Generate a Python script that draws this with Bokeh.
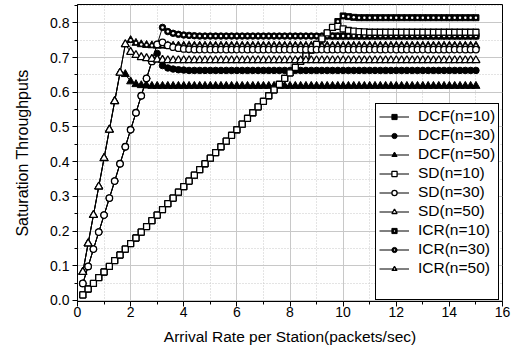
from bokeh.plotting import figure
from bokeh.models import Range1d, SingleIntervalTicker, Legend, LegendItem, PrintfTickFormatter
from bokeh.embed import file_html
from bokeh.resources import INLINE

x_rate = [0.2, 0.4, 0.6, 0.8, 1.0, 1.2, 1.4, 1.6, 1.8, 2.0,
          2.2, 2.4, 2.6, 2.8, 3.0, 3.2, 3.4, 3.6, 3.8, 4.0,
          4.2, 4.4, 4.6, 4.8, 5.0, 5.2, 5.4, 5.6, 5.8, 6.0,
          6.2, 6.4, 6.6, 6.8, 7.0, 7.2, 7.4, 7.6, 7.8, 8.0,
          8.2, 8.4, 8.6, 8.8, 9.0, 9.2, 9.4, 9.6, 9.8, 10.0,
          10.2, 10.4, 10.6, 10.8, 11.0, 11.2, 11.4, 11.6, 11.8, 12.0,
          12.2, 12.4, 12.6, 12.8, 13.0, 13.2, 13.4, 13.6, 13.8, 14.0,
          14.2, 14.4, 14.6, 14.8, 15.0]

dcf_n10 = [0.016, 0.033, 0.049, 0.066, 0.082, 0.098, 0.115, 0.131, 0.148, 0.164,
           0.180, 0.197, 0.213, 0.230, 0.246, 0.262, 0.279, 0.295, 0.312, 0.328,
           0.344, 0.361, 0.377, 0.394, 0.410, 0.426, 0.443, 0.459, 0.476, 0.492,
           0.508, 0.525, 0.541, 0.558, 0.574, 0.590, 0.607, 0.623, 0.640, 0.656,
           0.672, 0.689, 0.705, 0.722, 0.738, 0.754, 0.763, 0.762, 0.762, 0.762,
           0.762, 0.762, 0.762, 0.762, 0.762, 0.762, 0.762, 0.762, 0.762, 0.762,
           0.762, 0.762, 0.762, 0.762, 0.762, 0.762, 0.762, 0.762, 0.762, 0.762,
           0.762, 0.762, 0.762, 0.762, 0.762]
dcf_n30 = [0.049, 0.098, 0.148, 0.197, 0.246, 0.295, 0.344, 0.394, 0.443, 0.492,
           0.541, 0.590, 0.640, 0.689, 0.712, 0.677, 0.670, 0.667, 0.665, 0.664,
           0.663, 0.663, 0.663, 0.663, 0.663, 0.663, 0.663, 0.663, 0.663, 0.663,
           0.663, 0.663, 0.663, 0.663, 0.663, 0.663, 0.663, 0.663, 0.663, 0.663,
           0.663, 0.663, 0.663, 0.663, 0.663, 0.663, 0.663, 0.663, 0.663, 0.663,
           0.663, 0.663, 0.663, 0.663, 0.663, 0.663, 0.663, 0.663, 0.663, 0.663,
           0.663, 0.663, 0.663, 0.663, 0.663, 0.663, 0.663, 0.663, 0.663, 0.663,
           0.663, 0.663, 0.663, 0.663, 0.663]
dcf_n50 = [0.082, 0.164, 0.246, 0.328, 0.410, 0.492, 0.574, 0.656, 0.652, 0.631,
           0.623, 0.620, 0.619, 0.618, 0.618, 0.618, 0.618, 0.618, 0.618, 0.618,
           0.618, 0.618, 0.618, 0.618, 0.618, 0.618, 0.618, 0.618, 0.618, 0.618,
           0.618, 0.618, 0.618, 0.618, 0.618, 0.618, 0.618, 0.618, 0.618, 0.618,
           0.618, 0.618, 0.618, 0.618, 0.618, 0.618, 0.618, 0.618, 0.618, 0.618,
           0.618, 0.618, 0.618, 0.618, 0.618, 0.618, 0.618, 0.618, 0.618, 0.618,
           0.618, 0.618, 0.618, 0.618, 0.618, 0.618, 0.618, 0.618, 0.618, 0.618,
           0.618, 0.618, 0.618, 0.618, 0.618]
sd_n10 = [0.016, 0.033, 0.049, 0.066, 0.082, 0.098, 0.115, 0.131, 0.148, 0.164,
          0.180, 0.197, 0.213, 0.230, 0.246, 0.262, 0.279, 0.295, 0.312, 0.328,
          0.344, 0.361, 0.377, 0.394, 0.410, 0.426, 0.443, 0.459, 0.476, 0.492,
          0.508, 0.525, 0.541, 0.558, 0.574, 0.590, 0.607, 0.623, 0.640, 0.656,
          0.672, 0.689, 0.705, 0.722, 0.738, 0.754, 0.771, 0.787, 0.790, 0.783,
          0.778, 0.776, 0.775, 0.774, 0.773, 0.773, 0.773, 0.773, 0.773, 0.773,
          0.773, 0.773, 0.773, 0.773, 0.773, 0.773, 0.773, 0.773, 0.773, 0.773,
          0.773, 0.773, 0.773, 0.773, 0.773]
sd_n30 = [0.049, 0.098, 0.148, 0.197, 0.246, 0.295, 0.344, 0.394, 0.443, 0.492,
          0.541, 0.590, 0.640, 0.689, 0.738, 0.744, 0.735, 0.730, 0.727, 0.725,
          0.724, 0.723, 0.723, 0.723, 0.723, 0.723, 0.723, 0.723, 0.723, 0.723,
          0.723, 0.723, 0.723, 0.723, 0.723, 0.723, 0.723, 0.723, 0.723, 0.723,
          0.723, 0.723, 0.723, 0.723, 0.723, 0.723, 0.723, 0.723, 0.723, 0.723,
          0.723, 0.723, 0.723, 0.723, 0.723, 0.723, 0.723, 0.723, 0.723, 0.723,
          0.723, 0.723, 0.723, 0.723, 0.723, 0.723, 0.723, 0.723, 0.723, 0.723,
          0.723, 0.723, 0.723, 0.723, 0.723]
sd_n50 = [0.082, 0.164, 0.246, 0.328, 0.410, 0.492, 0.574, 0.656, 0.738, 0.716,
          0.707, 0.701, 0.698, 0.696, 0.694, 0.693, 0.692, 0.692, 0.692, 0.692,
          0.692, 0.692, 0.692, 0.692, 0.692, 0.692, 0.692, 0.692, 0.692, 0.692,
          0.692, 0.692, 0.692, 0.692, 0.692, 0.692, 0.692, 0.692, 0.692, 0.692,
          0.692, 0.692, 0.692, 0.692, 0.692, 0.692, 0.692, 0.692, 0.692, 0.692,
          0.692, 0.692, 0.692, 0.692, 0.692, 0.692, 0.692, 0.692, 0.692, 0.692,
          0.692, 0.692, 0.692, 0.692, 0.692, 0.692, 0.692, 0.692, 0.692, 0.692,
          0.692, 0.692, 0.692, 0.692, 0.692]
icr_n10 = [0.016, 0.033, 0.049, 0.066, 0.082, 0.098, 0.115, 0.131, 0.148, 0.164,
           0.180, 0.197, 0.213, 0.230, 0.246, 0.262, 0.279, 0.295, 0.312, 0.328,
           0.344, 0.361, 0.377, 0.394, 0.410, 0.426, 0.443, 0.459, 0.476, 0.492,
           0.508, 0.525, 0.541, 0.558, 0.574, 0.590, 0.607, 0.623, 0.640, 0.656,
           0.672, 0.689, 0.705, 0.722, 0.738, 0.754, 0.771, 0.787, 0.804, 0.820,
           0.818, 0.816, 0.815, 0.815, 0.815, 0.815, 0.815, 0.815, 0.815, 0.815,
           0.815, 0.815, 0.815, 0.815, 0.815, 0.815, 0.815, 0.815, 0.815, 0.815,
           0.815, 0.815, 0.815, 0.815, 0.815]
icr_n30 = [0.049, 0.098, 0.148, 0.197, 0.246, 0.295, 0.344, 0.394, 0.443, 0.492,
           0.541, 0.590, 0.640, 0.689, 0.738, 0.787, 0.775, 0.770, 0.767, 0.765,
           0.764, 0.763, 0.762, 0.762, 0.762, 0.762, 0.762, 0.762, 0.762, 0.762,
           0.762, 0.762, 0.762, 0.762, 0.762, 0.762, 0.762, 0.762, 0.762, 0.762,
           0.762, 0.762, 0.762, 0.762, 0.762, 0.762, 0.762, 0.762, 0.762, 0.762,
           0.762, 0.762, 0.762, 0.762, 0.762, 0.762, 0.762, 0.762, 0.762, 0.762,
           0.762, 0.762, 0.762, 0.762, 0.762, 0.762, 0.762, 0.762, 0.762, 0.762,
           0.762, 0.762, 0.762, 0.762, 0.762]
icr_n50 = [0.082, 0.164, 0.246, 0.328, 0.410, 0.492, 0.574, 0.656, 0.738, 0.750,
           0.742, 0.738, 0.736, 0.735, 0.734, 0.734, 0.734, 0.734, 0.734, 0.734,
           0.734, 0.734, 0.734, 0.734, 0.734, 0.734, 0.734, 0.734, 0.734, 0.734,
           0.734, 0.734, 0.734, 0.734, 0.734, 0.734, 0.734, 0.734, 0.734, 0.734,
           0.734, 0.734, 0.734, 0.734, 0.734, 0.734, 0.734, 0.734, 0.734, 0.734,
           0.734, 0.734, 0.734, 0.734, 0.734, 0.734, 0.734, 0.734, 0.734, 0.734,
           0.734, 0.734, 0.734, 0.734, 0.734, 0.734, 0.734, 0.734, 0.734, 0.734,
           0.734, 0.734, 0.734, 0.734, 0.734]

series_labels = ["DCF(n=10)", "DCF(n=30)", "DCF(n=50)",
                 "SD(n=10)", "SD(n=30)", "SD(n=50)",
                 "ICR(n=10)", "ICR(n=30)", "ICR(n=50)"]
series_values = [dcf_n10, dcf_n30, dcf_n50, sd_n10, sd_n30, sd_n50, icr_n10, icr_n30, icr_n50]

x_title = "Arrival Rate per Station(packets/sec)"
y_title = "Saturation Throughputs"

FONT = "Liberation Sans"

p = figure(width=515, height=348, output_backend="svg", toolbar_location=None,
           x_range=Range1d(0, 16), y_range=Range1d(-0.003, 0.853),
           min_border_left=77, min_border_right=13, min_border_top=4, min_border_bottom=47,
           background_fill_color="white", border_fill_color="white")

p.outline_line_color = "black"
p.outline_line_width = 1
p.outline_line_alpha = 1

p.xaxis.ticker = SingleIntervalTicker(interval=2, num_minor_ticks=2)
p.yaxis.ticker = SingleIntervalTicker(interval=0.1, num_minor_ticks=2)
p.yaxis.formatter = PrintfTickFormatter(format="%.1f")
p.xaxis.axis_label = x_title
p.yaxis.axis_label = y_title

for ax in (p.xaxis, p.yaxis):
    ax.axis_line_color = "black"
    ax.major_tick_line_color = "black"
    ax.minor_tick_line_color = "black"
    ax.major_tick_in = 0
    ax.major_tick_out = 5
    ax.minor_tick_in = 0
    ax.minor_tick_out = 3
    ax.major_label_text_font = FONT
    ax.major_label_text_font_size = "14px"
    ax.major_label_text_color = "black"
    ax.axis_label_text_font = FONT
    ax.axis_label_text_font_style = "normal"
    ax.axis_label_text_color = "black"

p.xaxis.major_label_standoff = 0
p.yaxis.major_label_standoff = 3
p.xaxis.axis_label_text_font_size = "15.5px"
p.yaxis.axis_label_text_font_size = "16px"
p.xaxis.axis_label_standoff = 8
p.yaxis.axis_label_standoff = 16

for g in (p.xgrid, p.ygrid):
    g.grid_line_color = "#c8c8c8"
    g.grid_line_width = 1
    g.minor_grid_line_color = "#c8c8c8"
    g.minor_grid_line_dash = "1 2"
    g.minor_grid_line_width = 1

base_markers = ["square", "circle", "triangle"] * 3
kinds = ["filled"] * 3 + ["open"] * 3 + ["half"] * 3
sizes = {"square": 6, "circle": 6.5, "triangle": 8}

lines = []
for ys in series_values:
    lines.append(p.line(x_rate, ys, line_color="black", line_width=1))

# draw markers: filled first, then half-filled, open ones on top
draw_order = [0, 1, 2, 6, 7, 8, 3, 4, 5]
marker_rends = {}
for i in draw_order:
    ys = series_values[i]
    m = base_markers[i]
    kind = kinds[i]
    fill = "white" if kind == "open" else "black"
    lw = 1.3 if kind == "open" else 1
    r = p.scatter(x_rate, ys, marker=m, size=sizes[m], fill_color=fill,
                  line_color="black", line_width=lw)
    rends = [lines[i], r]
    if kind == "half":
        d = p.scatter(x_rate, ys, marker="dot", size=10, line_color="white",
                      fill_color="white")
        rends.append(d)
    marker_rends[i] = rends

items = [LegendItem(label=series_labels[i], renderers=marker_rends[i])
         for i in range(len(series_labels))]

spacer = p.scatter([], [], size=0, fill_alpha=0, line_alpha=0)
items.append(LegendItem(label=" ", renderers=[spacer]))

legend = Legend(items=items, location=(298, 1), padding=3, spacing=1,
                label_height=18, glyph_height=13, glyph_width=30, label_standoff=9,
                label_text_font=FONT, label_text_font_size="15.5px",
                label_text_color="black",
                border_line_color="black", border_line_width=1, border_line_alpha=1,
                background_fill_color="white", background_fill_alpha=1, margin=0)
p.add_layout(legend)

open("out.html", "w").write(file_html(p, INLINE))
